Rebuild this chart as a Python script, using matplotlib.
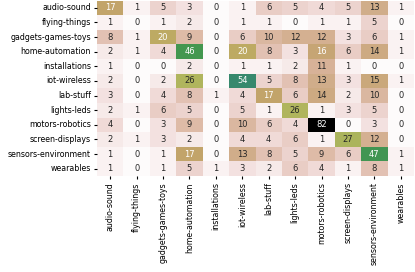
import numpy as np
import matplotlib
matplotlib.use("Agg")
import matplotlib.pyplot as plt
import seaborn as sns

labels = ["audio-sound", "flying-things", "gadgets-games-toys", "home-automation",
          "installations", "iot-wireless", "lab-stuff", "lights-leds",
          "motors-robotics", "screen-displays", "sensors-environment", "wearables"]

counts = np.array([
    [17, 1, 5, 3, 0, 1, 6, 5, 4, 5, 13, 1],
    [1, 0, 1, 2, 0, 1, 1, 0, 1, 1, 5, 0],
    [8, 1, 20, 9, 0, 6, 10, 12, 12, 3, 6, 1],
    [2, 1, 4, 46, 0, 20, 8, 3, 16, 6, 14, 1],
    [1, 0, 0, 2, 0, 1, 1, 2, 11, 1, 0, 0],
    [2, 0, 2, 26, 0, 54, 5, 8, 13, 3, 15, 1],
    [3, 0, 4, 8, 1, 4, 17, 6, 14, 2, 10, 0],
    [2, 1, 6, 5, 0, 5, 1, 26, 1, 3, 5, 0],
    [4, 0, 3, 9, 0, 10, 6, 4, 82, 0, 3, 0],
    [2, 1, 3, 2, 0, 4, 4, 6, 1, 27, 12, 0],
    [1, 0, 1, 17, 0, 13, 8, 5, 9, 6, 47, 1],
    [1, 0, 1, 5, 1, 3, 2, 6, 4, 1, 8, 1],
])

fig = plt.figure(figsize=(4.15, 2.72), dpi=100)
ax = fig.add_axes([97 / 415, 1 - 176 / 272, 317 / 415, 175.5 / 272])
sns.heatmap(counts, annot=True, fmt="d", cmap="gist_earth_r", cbar=False,
            xticklabels=labels, yticklabels=labels, ax=ax,
            annot_kws={"size": 6})
ax.tick_params(labelsize=5.7, length=2.5, pad=2)
plt.setp(ax.get_xticklabels(), rotation=90)
plt.setp(ax.get_yticklabels(), rotation=0)
fig.savefig("out.png", dpi=100)
